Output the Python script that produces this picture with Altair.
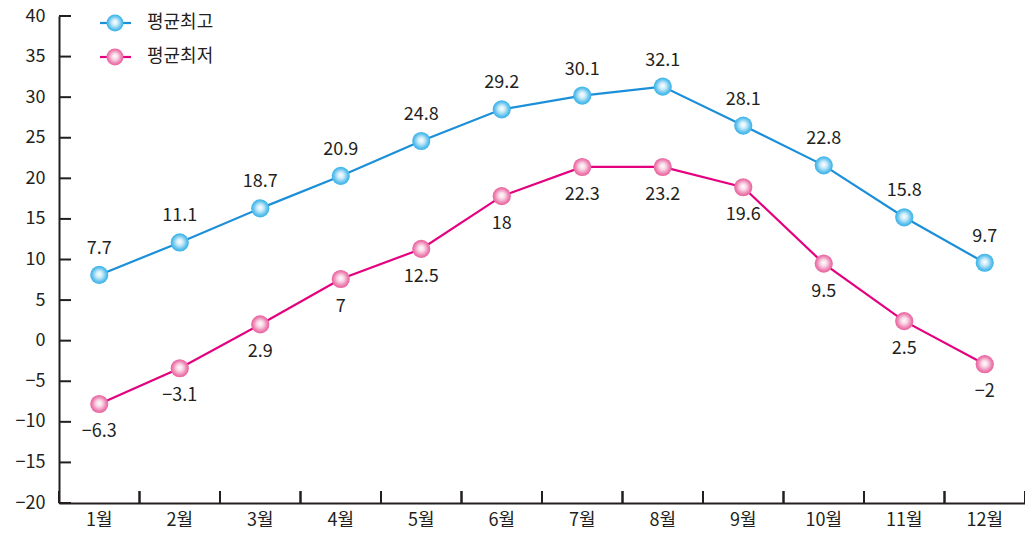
import altair as alt
import pandas as pd

months = ["1월", "2월", "3월", "4월", "5월", "6월", "7월", "8월", "9월", "10월", "11월", "12월"]
series_names = ["평균최고", "평균최저"]

# plotted positions
high_pos = [8.1, 12.1, 16.3, 20.3, 24.6, 28.5, 30.2, 31.3, 26.5, 21.6, 15.2, 9.6]
low_pos = [-7.8, -3.4, 2.0, 7.6, 11.3, 17.8, 21.4, 21.4, 18.9, 9.5, 2.4, -2.9]

# printed value labels
high_labels = [7.7, 11.1, 18.7, 20.9, 24.8, 29.2, 30.1, 32.1, 28.1, 22.8, 15.8, 9.7]
low_labels = [-6.3, -3.1, 2.9, 7, 12.5, 18, 22.3, 23.2, 19.6, 9.5, 2.5, -2]

y_ticks = list(range(-20, 41, 5))

FONT = "Noto Sans CJK KR"
INK = "#231f20"
LINE_COLORS = ["#1b8fd8", "#e4007e"]
MARKER_COLORS = ["#3ab3e9", "#e9649f"]


def fmt(v):
    return ("%g" % v).replace("-", "−")


rows = []
for m, v, l in zip(months, high_pos, high_labels):
    rows.append({"month": m, "series": series_names[0], "value": v, "label": fmt(l)})
for m, v, l in zip(months, low_pos, low_labels):
    rows.append({"month": m, "series": series_names[1], "value": v, "label": fmt(l)})
df = pd.DataFrame(rows)

ytick_df = pd.DataFrame({"t": y_ticks})
month_df = pd.DataFrame({"month": months})

highlight = alt.RadialGradient(
    gradient="radial", x1=0.5, y1=0.45, r1=0, x2=0.5, y2=0.5, r2=0.5,
    stops=[
        alt.GradientStop(offset=0, color="rgba(255,255,255,1)"),
        alt.GradientStop(offset=0.35, color="rgba(255,255,255,0.75)"),
        alt.GradientStop(offset=0.8, color="rgba(255,255,255,0.15)"),
        alt.GradientStop(offset=1, color="rgba(255,255,255,0)"),
    ],
)

xscale = alt.Scale(type="band", domain=months, paddingInner=0, paddingOuter=0)
yscale = alt.Scale(domain=[-20, 40], nice=False, zero=False)

W = 966
H = 487
TICK = 12
MSIZE = 330

xaxis = alt.Axis(title="", ticks=False, domainColor=INK, domainWidth=2,
                 labelPadding=8, labelAngle=0, grid=False)
yaxis = alt.Axis(title="", ticks=False, domainColor=INK, domainWidth=2,
                 labelPadding=14, values=y_ticks, grid=False)

ytick_layer = alt.Chart(ytick_df).mark_rule(color=INK, strokeWidth=2).encode(
    y=alt.Y("t:Q", scale=yscale, axis=yaxis),
    x=alt.value(0), x2=alt.value(TICK),
)

xtick0 = alt.Chart(month_df).mark_rule(color=INK, strokeWidth=2).encode(
    x=alt.X("month:N", scale=xscale, bandPosition=0, sort=months, axis=xaxis),
    y=alt.value(H - TICK), y2=alt.value(H),
)
xtick1 = alt.Chart(month_df).mark_rule(color=INK, strokeWidth=2).encode(
    x=alt.X("month:N", scale=xscale, bandPosition=1, sort=months, axis=xaxis),
    y=alt.value(H - TICK), y2=alt.value(H),
)

base = alt.Chart(df)
X = alt.X("month:N", scale=xscale, bandPosition=0.5, sort=months, axis=xaxis)
Y = alt.Y("value:Q", scale=yscale, axis=yaxis)

lines = base.mark_line(strokeWidth=2.2).encode(
    x=X, y=Y,
    stroke=alt.Stroke("series:N", scale=alt.Scale(domain=series_names, range=LINE_COLORS),
                      legend=None),
)

pts = base.mark_point(shape="circle", filled=True, size=MSIZE, strokeWidth=0, opacity=1).encode(
    x=X, y=Y,
    color=alt.Color("series:N", scale=alt.Scale(domain=series_names, range=MARKER_COLORS),
                    legend=None),
)

gloss = base.mark_point(shape="circle", filled=True, size=MSIZE, strokeWidth=0, opacity=1,
                        fill=highlight).encode(x=X, y=Y)

txt_blue = base.transform_filter(alt.datum.series == series_names[0]).mark_text(
    font=FONT, fontSize=18, color=INK, dy=-26, baseline="middle"
).encode(x=X, y=Y, text="label:N")

txt_pink = base.transform_filter(alt.datum.series == series_names[1]).mark_text(
    font=FONT, fontSize=18, color=INK, dy=28, baseline="middle"
).encode(x=X, y=Y, text="label:N")

# legend (top-left corner of the plot): line piece, glossy marker, name
legend_layers = []
for i, name in enumerate(series_names):
    ldf = pd.DataFrame({"series": [name]})
    row_y = 7 + 34 * i
    lc = alt.Chart(ldf)
    legend_layers.append(lc.mark_rule(color=LINE_COLORS[i], strokeWidth=2.2).encode(
        x=alt.value(41), x2=alt.value(72), y=alt.value(row_y)))
    legend_layers.append(lc.mark_point(shape="circle", filled=True, size=290, strokeWidth=0,
                                       opacity=1, fill=MARKER_COLORS[i]).encode(
        x=alt.value(56), y=alt.value(row_y)))
    legend_layers.append(lc.mark_point(shape="circle", filled=True, size=290, strokeWidth=0,
                                       opacity=1, fill=highlight).encode(
        x=alt.value(56), y=alt.value(row_y)))
    legend_layers.append(lc.mark_text(font=FONT, fontSize=18, color=INK, align="left",
                                      baseline="middle").encode(
        x=alt.value(88), y=alt.value(row_y), text="series:N"))

chart = alt.layer(
    lines, pts, gloss, txt_blue, txt_pink, ytick_layer, xtick0, xtick1, *legend_layers
).properties(
    width=W, height=H,
    autosize=alt.AutoSizeParams(type="none"),
    padding={"left": 51, "top": 8, "right": 0, "bottom": 36},
    background="white",
).configure_view(strokeWidth=0).configure_axis(
    labelFont=FONT, labelFontSize=18, labelColor=INK
)

chart.save("out.html", embed_options={"renderer": "svg", "actions": False})
